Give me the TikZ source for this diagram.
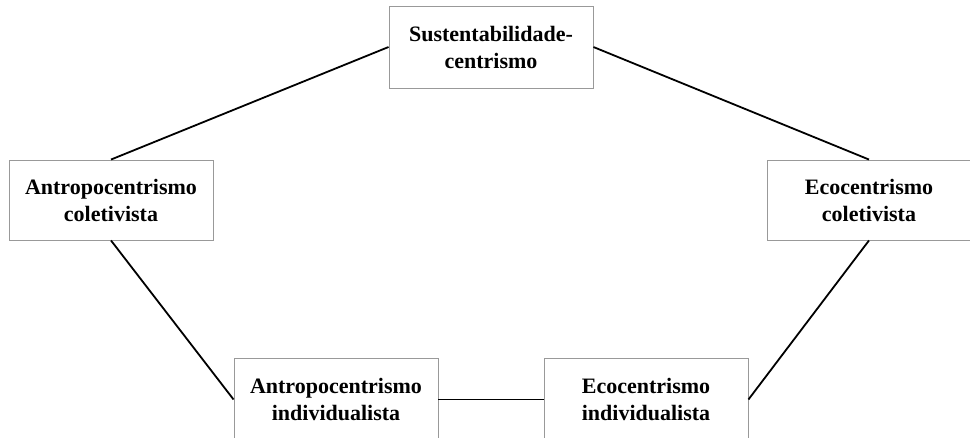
\documentclass[tikz,border=0pt]{standalone}
\usepackage{fontspec}
\setmainfont{Liberation Serif}
\begin{document}
\begin{tikzpicture}[x=1pt,y=-1pt,
  box/.style={draw=black!40,line width=0.9pt,fill=white,minimum width=204pt,minimum height=80pt,
    inner sep=0pt,align=center,font=\fontsize{22}{27}\selectfont\bfseries},
  link/.style={draw=black,line width=1.8pt}]
\useasboundingbox (0,0) rectangle (970,437);
\node[box,minimum height=82pt] (top) at (491,47) {Sustentabilidade-\\centrismo};
\node[box] (left) at (111,200) {Antropocentrismo\\coletivista};
\node[box] (right) at (869,200) {Ecocentrismo\\coletivista};
\node[box,minimum height=82pt] (bl) at (336,399.5) {Antropocentrismo\\individualista};
\node[box,minimum height=82pt] (br) at (646,399.5) {Ecocentrismo\\individualista};
\draw[link] (left.north) -- (top.west);
\draw[link] (right.north) -- (top.east);
\draw[link] (left.south) -- (bl.west);
\draw[link] (right.south) -- (br.east);
\draw[link] (bl.east) -- (br.west);
\end{tikzpicture}
\end{document}
